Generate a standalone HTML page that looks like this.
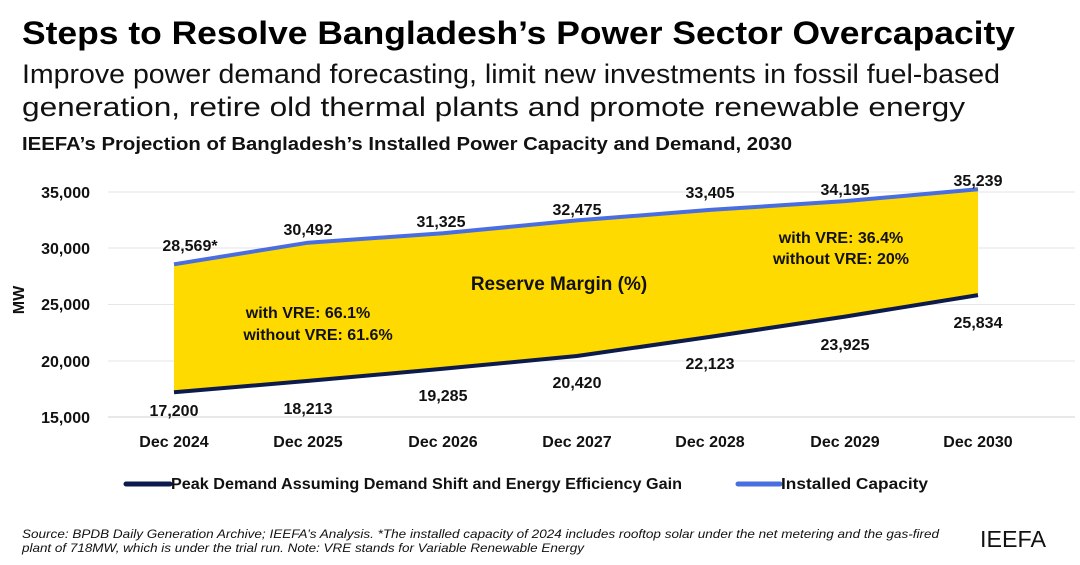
<!DOCTYPE html>
<html><head><meta charset="utf-8"><style>
body{margin:0;width:1080px;height:565px;background:#fff;font-family:"Liberation Sans",sans-serif;overflow:hidden;position:relative}
</style></head><body>
<svg width="1080" height="565" style="position:absolute;left:0;top:0" font-family="Liberation Sans, sans-serif" font-weight="bold">
<text x="22" y="44" font-size="32" fill="#000" textLength="993" lengthAdjust="spacingAndGlyphs">Steps to Resolve Bangladesh’s Power Sector Overcapacity</text>
<g font-weight="normal" font-size="27" fill="#111">
<text x="22" y="83" textLength="978" lengthAdjust="spacingAndGlyphs">Improve power demand forecasting, limit new investments in fossil fuel-based</text>
<text x="22" y="116" textLength="943" lengthAdjust="spacingAndGlyphs">generation, retire old thermal plants and promote renewable energy</text></g>
<text x="22" y="150" font-size="18" fill="#111" textLength="770" lengthAdjust="spacingAndGlyphs">IEEFA’s Projection of Bangladesh’s Installed Power Capacity and Demand, 2030</text>
<g stroke="#e6e6e6" stroke-width="1">
<line x1="108" x2="1075" y1="192" y2="192"/><line x1="108" x2="1075" y1="248" y2="248"/><line x1="108" x2="1075" y1="304.5" y2="304.5"/><line x1="108" x2="1075" y1="361" y2="361"/></g>
<line x1="108" x2="1075" y1="417" y2="417" stroke="#d0d0d0"/>
<g font-size="16" fill="#111" text-anchor="end">
<text x="90" y="198">35,000</text><text x="90" y="254">30,000</text><text x="90" y="310">25,000</text><text x="90" y="367">20,000</text><text x="90" y="423">15,000</text></g>
<text transform="translate(24,300) rotate(-90)" font-size="16" text-anchor="middle" fill="#111">MW</text>
<polygon fill="#FFDA00" points="174,264.3 308,242.7 443,233.3 577,220.4 710,209.9 845,201.1 978,189.3 978,295.1 845,316.6 710,336.9 577,356 443,368.8 308,380.9 174,392.3"/>
<polyline fill="none" stroke="#4A6EE0" stroke-width="4" points="174,264.3 308,242.7 443,233.3 577,220.4 710,209.9 845,201.1 978,189.3"/>
<polyline fill="none" stroke="#0D1B4C" stroke-width="4" points="174,392.3 308,380.9 443,368.8 577,356 710,336.9 845,316.6 978,295.1"/>
<g font-size="16" fill="#111" text-anchor="middle">
<text x="190" y="251">28,569*</text><text x="308" y="235">30,492</text><text x="441" y="227">31,325</text><text x="577" y="215">32,475</text><text x="710" y="198">33,405</text><text x="845" y="195">34,195</text><text x="978" y="186">35,239</text>
<text x="174" y="416">17,200</text><text x="308" y="414">18,213</text><text x="443" y="401">19,285</text><text x="577" y="388">20,420</text><text x="710" y="369">22,123</text><text x="845" y="350">23,925</text><text x="978" y="328">25,834</text>
<text x="174" y="447">Dec 2024</text><text x="308" y="447">Dec 2025</text><text x="443" y="447">Dec 2026</text><text x="577" y="447">Dec 2027</text><text x="710" y="447">Dec 2028</text><text x="845" y="447">Dec 2029</text><text x="978" y="447">Dec 2030</text>
<text x="559" y="290" font-size="19">Reserve Margin (%)</text>
<text x="308" y="318">with VRE: 66.1%</text><text x="318" y="340">without VRE: 61.6%</text>
<text x="841" y="243">with VRE: 36.4%</text><text x="841" y="264">without VRE: 20%</text>
</g>
<line x1="126" x2="170" y1="484" y2="484" stroke="#0D1B4C" stroke-width="5" stroke-linecap="round"/>
<line x1="738" x2="780" y1="484" y2="484" stroke="#4A6EE0" stroke-width="5" stroke-linecap="round"/>
<g font-size="16" fill="#111" font-weight="bold">
<text x="171" y="489" textLength="511" lengthAdjust="spacingAndGlyphs">Peak Demand Assuming Demand Shift and Energy Efficiency Gain</text>
<text x="781" y="489" textLength="147" lengthAdjust="spacingAndGlyphs">Installed Capacity</text></g>
<g font-size="12" font-style="italic" font-weight="normal" fill="#111">
<text x="22" y="538" textLength="917" lengthAdjust="spacingAndGlyphs">Source: BPDB Daily Generation Archive; IEEFA’s Analysis. *The installed capacity of 2024 includes rooftop solar under the net metering and the gas-fired</text>
<text x="22" y="552" textLength="562" lengthAdjust="spacingAndGlyphs">plant of 718MW, which is under the trial run. Note: VRE stands for Variable Renewable Energy</text></g>
<text x="980" y="547" font-size="23" font-weight="normal" fill="#111" textLength="66" lengthAdjust="spacingAndGlyphs">IEEFA</text>
</svg>
</body></html>
